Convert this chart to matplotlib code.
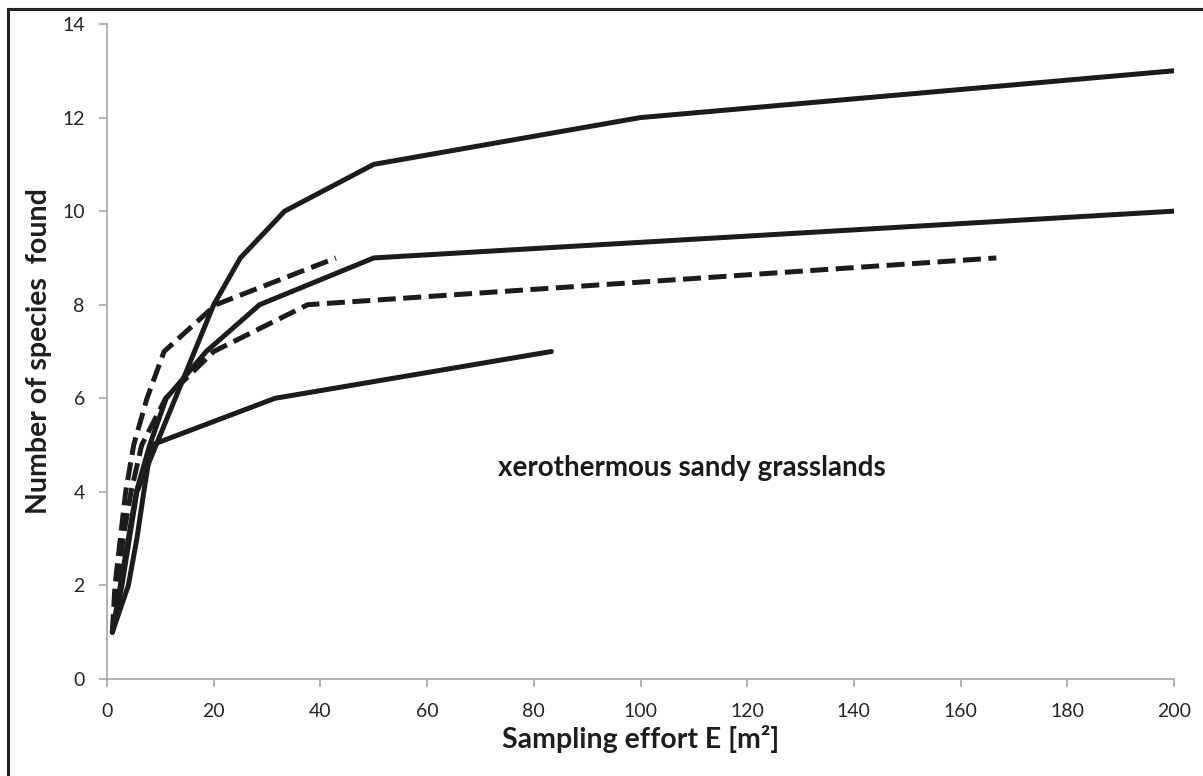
import matplotlib
matplotlib.use("Agg")
import matplotlib.pyplot as plt
from matplotlib.lines import Line2D

plt.rcParams['font.family'] = ['Lato', 'DejaVu Sans']

# Species accumulation curves: sampling effort (m²) vs. species found
solid_a_x = [1, 2.8, 4.2, 5.6, 9.2, 12.8, 16.4, 20, 25, 33.3, 50, 100, 200]
solid_a_y = [1, 2, 3, 4, 5, 6, 7, 8, 9, 10, 11, 12, 13]

solid_b_x = [1, 2.5, 4, 5.5, 8, 11.1, 18.6, 28.6, 50, 200]
solid_b_y = [1, 2, 3, 4, 5, 6, 7, 8, 9, 10]

solid_c_x = [1, 4, 5.6, 6.9, 8.3, 31.5, 83.3]
solid_c_y = [1, 2, 3, 4, 5, 6, 7]

dashed_a_x = [1, 1.5, 2.5, 3.5, 5, 7.5, 10.7, 20.4, 42.9]
dashed_a_y = [1, 2, 3, 4, 5, 6, 7, 8, 9]

dashed_b_x = [1, 2, 3, 4.5, 6.5, 11, 20, 37.6, 166.7]
dashed_b_y = [1, 2, 3, 4, 5, 6, 7, 8, 9]

x_ticks = [0, 20, 40, 60, 80, 100, 120, 140, 160, 180, 200]
y_ticks = [0, 2, 4, 6, 8, 10, 12, 14]

W, H = 1203, 776
fig = plt.figure(figsize=(W / 100, H / 100), dpi=100)
ax = fig.add_axes([107 / W, 1 - 679 / H, (1174 - 107) / W, (679 - 24) / H])

ink = '#1c1c1c'
lw = 3.6
for xs, ys in [(solid_a_x, solid_a_y), (solid_b_x, solid_b_y), (solid_c_x, solid_c_y)]:
    ax.plot(xs, ys, color=ink, lw=lw, solid_capstyle='round', solid_joinstyle='round')
for xs, ys in [(dashed_a_x, dashed_a_y), (dashed_b_x, dashed_b_y)]:
    ax.plot(xs, ys, color=ink, lw=lw, dashes=(3.6, 1.5), dash_capstyle='butt',
            dash_joinstyle='round')

ax.set_xlim(0, 200)
ax.set_ylim(0, 14)
ax.set_xticks(x_ticks)
ax.set_yticks(y_ticks)

grey = '#a6a6a6'
for side in ['top', 'right']:
    ax.spines[side].set_visible(False)
for side in ['left', 'bottom']:
    ax.spines[side].set_color(grey)
    ax.spines[side].set_linewidth(1.2)
ax.tick_params(axis='both', direction='out', color=grey, width=1.2, length=6,
               labelsize=14, labelcolor='#262626')
ax.tick_params(axis='y', pad=10)
ax.tick_params(axis='x', pad=11)

ax.set_xlabel('Sampling effort E [m²]', fontsize=20.5, fontweight='bold', labelpad=4,
              color='#1e1e1e')
ax.set_ylabel('Number of species  found', fontsize=20.5, fontweight='bold', labelpad=7,
              color='#1e1e1e')

ax.text(73.3, 4.5, 'xerothermous sandy grasslands', fontsize=20, fontweight='bold',
        ha='left', va='center', color='#1a1a1a')

# Outer frame of the figure (left and top edges)
fx = 7.5 / W
fy = 1 - 9 / H
fig.add_artist(Line2D([fx, fx], [0, fy], transform=fig.transFigure, color='#222222', lw=2.2))
fig.add_artist(Line2D([fx, 1], [fy, fy], transform=fig.transFigure, color='#222222', lw=2.2))

fig.savefig('out.png', dpi=100)
